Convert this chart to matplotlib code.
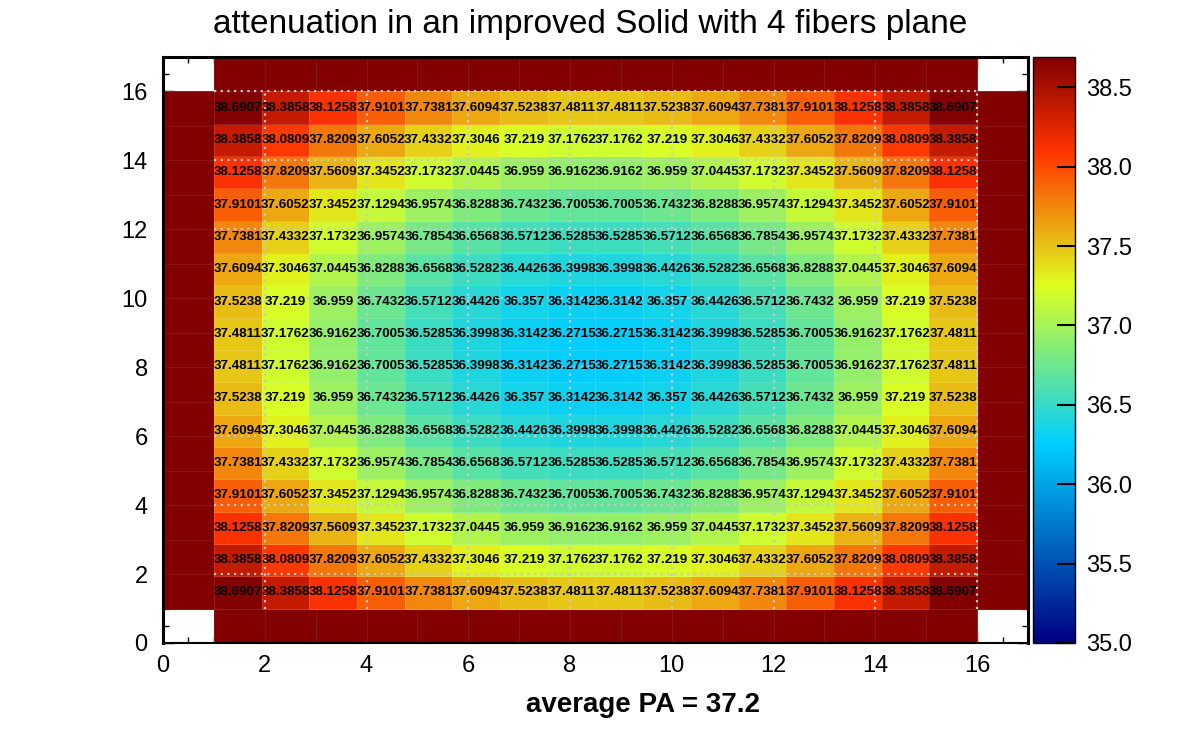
import numpy as np
import matplotlib
matplotlib.use("Agg")
import matplotlib.pyplot as plt
from matplotlib.colors import LinearSegmentedColormap, Normalize

plt.rcParams['font.family'] = ['Liberation Sans', 'DejaVu Sans']

# one quarter of the fiber plane (rows from the bottom, columns from the left);
# the plane is symmetric in x and y
quarter = [
    [38.6907, 38.3858, 38.1258, 37.9101, 37.7381, 37.6094, 37.5238, 37.4811],
    [38.3858, 38.0809, 37.8209, 37.6052, 37.4332, 37.3046, 37.2190, 37.1762],
    [38.1258, 37.8209, 37.5609, 37.3452, 37.1732, 37.0445, 36.9590, 36.9162],
    [37.9101, 37.6052, 37.3452, 37.1294, 36.9574, 36.8288, 36.7432, 36.7005],
    [37.7381, 37.4332, 37.1732, 36.9574, 36.7854, 36.6568, 36.5712, 36.5285],
    [37.6094, 37.3046, 37.0445, 36.8288, 36.6568, 36.5282, 36.4426, 36.3998],
    [37.5238, 37.2190, 36.9590, 36.7432, 36.5712, 36.4426, 36.3570, 36.3142],
    [37.4811, 37.1762, 36.9162, 36.7005, 36.5285, 36.3998, 36.3142, 36.2715],
]
border_value = 40.0      # outside ring, above the scale -> drawn with the top colour
zmin, zmax = 35.0, 38.6907
title = "attenuation in an improved Solid with 4 fibers plane"
xtitle = "average PA = 37.2"
axis_ticks = [0, 2, 4, 6, 8, 10, 12, 14, 16]
cbar_ticks = [35.0, 35.5, 36.0, 36.5, 37.0, 37.5, 38.0, 38.5]

q = np.array(quarter)
half = np.hstack([q, q[:, ::-1]])
inner = np.vstack([half, half[::-1, :]])

# outer 17x17 ring, empty corners
ring = np.full((17, 17), np.nan)
ring[0, :] = ring[-1, :] = ring[:, 0] = ring[:, -1] = border_value
ring[0, 0] = ring[0, -1] = ring[-1, 0] = ring[-1, -1] = np.nan

# ROOT style rainbow palette
stops = [0.00, 0.34, 0.61, 0.84, 1.00]
red = [0.00, 0.00, 0.87, 1.00, 0.51]
green = [0.00, 0.81, 1.00, 0.20, 0.00]
blue = [0.51, 1.00, 0.12, 0.00, 0.00]
cmap = LinearSegmentedColormap.from_list(
    "root", list(zip(stops, zip(red, green, blue))), N=255)
norm = Normalize(zmin, zmax)

fig = plt.figure(figsize=(11.82, 7.32), dpi=100)
ax = fig.add_axes([0.1379, 0.1216, 0.7318, 0.8005])
cax = fig.add_axes([0.8739, 0.1216, 0.0355, 0.8005])

ax.set_axisbelow(True)
e17 = np.arange(0, 18)
ax.pcolormesh(e17, e17, np.ma.masked_invalid(ring), cmap=cmap, norm=norm,
              edgecolors=(1, 1, 1, 0.08), linewidth=0.5)
e16 = np.linspace(1, 16, 17)
mesh = ax.pcolormesh(e16, e16, inner, cmap=cmap, norm=norm,
                     edgecolors=(1, 1, 1, 0.12), linewidth=0.5)

centers = (e16[:-1] + e16[1:]) / 2
for iy, yc in enumerate(centers):
    for ix, xc in enumerate(centers):
        ax.text(xc, yc, f"{inner[iy, ix]:g}", ha='center', va='center',
                fontsize=9.6, fontweight='bold', color='black', zorder=4)

# dotted grid, only over the fiber area
gl = [t for t in axis_ticks if t > 1]
ax.vlines(gl, 1, 16, colors='#c8c8c8', linestyles=(0, (1, 2)), linewidth=1.6, zorder=3)
ax.hlines(gl, 1, 16, colors='#c8c8c8', linestyles=(0, (1, 2)), linewidth=1.6, zorder=3)

ax.set_xlim(0, 17)
ax.set_ylim(0, 17)
ax.set_xticks(axis_ticks)
ax.set_yticks(axis_ticks)
ax.set_xticks(np.arange(0, 17.5, 0.5), minor=True)
ax.set_yticks(np.arange(0, 17.5, 0.5), minor=True)
ax.tick_params(which='both', direction='in', top=True, right=True, labelsize=17)
ax.tick_params(which='major', length=8, width=1)
ax.tick_params(which='minor', length=4, width=1)
ax.tick_params(axis='x', pad=9)
ax.tick_params(axis='y', pad=11)
for s in ax.spines.values():
    s.set_linewidth(2.2)
    s.set_color('black')
ax.spines['bottom'].set_linewidth(1.5)

cb = fig.colorbar(mesh, cax=cax, ticks=cbar_ticks, format='%.1f')
cb.outline.set_linewidth(1.0)
cb.outline.set_edgecolor('black')
cax.tick_params(direction='in', length=13, width=1.5, labelsize=17, pad=8)

fig.text(0.499, 0.966, title, ha='center', va='center', fontsize=24)
fig.text(0.544, 0.037, xtitle, ha='center', va='center', fontsize=20,
         fontweight='bold')

fig.savefig("out.png", dpi=100)
